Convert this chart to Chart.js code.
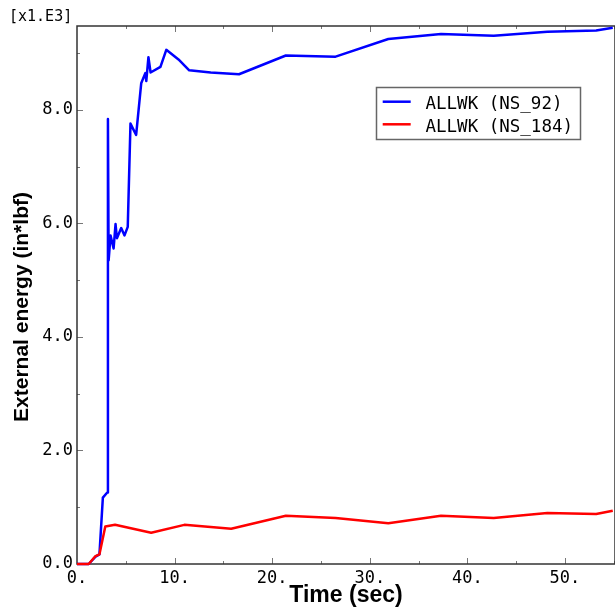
<!DOCTYPE html>
<html>
<head>
<meta charset="utf-8">
<script src="https://cdn.jsdelivr.net/npm/chart.js@4/dist/chart.umd.min.js"></script>
<style>
    html, body { margin: 0; padding: 0; background: #fff; }
    #wrap { width: 615px; height: 609px; }
</style>
</head>
<body>
<div id="wrap"><canvas id="chart" width="615" height="609"></canvas></div>
<script>
// ALLWK (NS_92) - time (sec) / external energy (x1.E3 in*lbf)
const timeNs92 = [0, 1.2, 1.9, 2.3, 2.65, 3.1, 3.17, 3.24, 3.44, 3.75, 3.95, 4.09, 4.53, 4.87, 5.2, 5.48, 6.06, 6.58,
    7.0, 7.1, 7.32, 7.54, 8.55, 9.15, 10.4, 11.5, 13.7, 16.6, 21.4, 26.5, 31.9, 37.3, 42.7, 48.2, 53.2, 54.9];
const energyNs92 = [0, 0, 0.13, 0.17, 1.17, 1.26, 7.84, 5.35, 5.79, 5.56, 5.99, 5.74, 5.92, 5.79, 5.94, 7.76, 7.56, 8.47,
    8.65, 8.51, 8.93, 8.66, 8.76, 9.06, 8.89, 8.70, 8.66, 8.63, 8.96, 8.94, 9.25, 9.34, 9.31, 9.38, 9.40, 9.45];

// ALLWK (NS_184)
const timeNs184 = [0, 1.2, 1.9, 2.3, 2.9, 3.9, 7.6, 11.0, 15.8, 21.4, 26.5, 31.9, 37.3, 42.7, 48.2, 53.2, 54.9];
const energyNs184 = [0, 0, 0.14, 0.17, 0.66, 0.69, 0.55, 0.69, 0.62, 0.85, 0.81, 0.72, 0.85, 0.81, 0.90, 0.88, 0.94];

const xTickValues = [0, 10, 20, 30, 40, 50];
const xTickLabels = ["0.", "10.", "20.", "30.", "40.", "50."];
const yTickValues = [0, 2, 4, 6, 8];
const yTickLabels = ["0.0", "2.0", "4.0", "6.0", "8.0"];

// 右边框落在画布外（原图右侧被裁掉）
const X_MAX = 55.13;
const Y_MAX = 9.48;

function toPoints(xs, ys) {
    return xs.map((x, i) => ({ x: x, y: ys[i] }));
}

// 边框、内向刻度、图例和左上角的倍数标注
const decorations = {
    id: "decorations",
    beforeDatasetsDraw(chart) {
        const ctx = chart.ctx;
        const a = chart.chartArea;
        const xs = chart.scales.x;
        const ys = chart.scales.y;
        ctx.save();
        ctx.strokeStyle = "#777";
        ctx.lineWidth = 1;
        ctx.beginPath();
        for (let v = 5; v < X_MAX; v += 5) {
            const px = Math.round(xs.getPixelForValue(v)) + 0.5;
            const len = v % 10 === 0 ? 6 : 3;
            ctx.moveTo(px, a.bottom); ctx.lineTo(px, a.bottom - len);
            ctx.moveTo(px, a.top); ctx.lineTo(px, a.top + len);
        }
        for (let v = 1; v < Y_MAX; v += 1) {
            const py = Math.round(ys.getPixelForValue(v)) + 0.5;
            const len = v % 2 === 0 ? 6 : 3;
            ctx.moveTo(a.left, py); ctx.lineTo(a.left + len, py);
        }
        ctx.stroke();
        ctx.strokeStyle = "#333";
        ctx.lineWidth = 1.5;
        ctx.strokeRect(a.left, a.top, a.right - a.left, a.bottom - a.top);
        ctx.restore();
    },
    afterDraw(chart) {
        const ctx = chart.ctx;
        ctx.save();

        ctx.fillStyle = "#000";
        ctx.font = '15px "DejaVu Sans Mono"';
        ctx.textAlign = "left";
        ctx.textBaseline = "alphabetic";
        ctx.fillText("[x1.E3]", 9, 21);

        // y 轴标题
        ctx.save();
        ctx.translate(22.5, 307);
        ctx.rotate(-Math.PI / 2);
        ctx.font = 'bold 21px "Liberation Sans"';
        ctx.textAlign = "center";
        ctx.textBaseline = "middle";
        ctx.fillText("External energy (in*lbf)", 0, 0);
        ctx.restore();

        // 图例
        const box = { left: 376.5, top: 87.5, width: 204, height: 52 };
        ctx.fillStyle = "#fff";
        ctx.fillRect(box.left, box.top, box.width, box.height);
        ctx.strokeStyle = "#666";
        ctx.lineWidth = 1.5;
        ctx.strokeRect(box.left, box.top, box.width, box.height);
        ctx.font = '17.5px "DejaVu Sans Mono"';
        chart.data.datasets.forEach((ds, i) => {
            const y = 101.7 + i * 22.6;
            ctx.strokeStyle = ds.borderColor;
            ctx.lineWidth = 2.5;
            ctx.beginPath();
            ctx.moveTo(382.7, y);
            ctx.lineTo(410.7, y);
            ctx.stroke();
            ctx.fillStyle = "#000";
            ctx.fillText(ds.label, 425.5, y + 7.6);
        });
        ctx.restore();
    }
};

new Chart(document.getElementById("chart"), {
    type: "line",
    data: {
        datasets: [
            {
                label: "ALLWK (NS_92)",
                data: toPoints(timeNs92, energyNs92),
                borderColor: "#0000ff",
                borderWidth: 2.5,
                borderJoinStyle: "round",
                pointRadius: 0,
                fill: false,
                order: 1,
                clip: false
            },
            {
                label: "ALLWK (NS_184)",
                data: toPoints(timeNs184, energyNs184),
                borderColor: "#ff0000",
                borderWidth: 2.5,
                borderJoinStyle: "round",
                pointRadius: 0,
                fill: false,
                order: 0,
                clip: false
            }
        ]
    },
    options: {
        responsive: false,
        animation: false,
        devicePixelRatio: 1,
        layout: { padding: { top: 26, left: 0, right: -2, bottom: 0 } },
        plugins: { legend: { display: false }, tooltip: { enabled: false } },
        scales: {
            x: {
                type: "linear",
                min: 0,
                max: X_MAX,
                grid: { display: false, drawTicks: false },
                border: { display: false },
                afterBuildTicks: axis => { axis.ticks = xTickValues.map(v => ({ value: v })); },
                afterFit: axis => { axis.height = 45; },
                ticks: {
                    color: "#000",
                    padding: 4,
                    maxRotation: 0,
                    font: { family: "DejaVu Sans Mono", size: 17 },
                    callback: (v, i) => xTickLabels[i]
                },
                title: {
                    display: true,
                    text: "Time (sec)",
                    color: "#000",
                    padding: { top: 0, bottom: 0 },
                    font: { family: "Liberation Sans", size: 23, weight: "bold" }
                }
            },
            y: {
                type: "linear",
                min: 0,
                max: Y_MAX,
                grid: { display: false, drawTicks: false },
                border: { display: false },
                afterBuildTicks: axis => { axis.ticks = yTickValues.map(v => ({ value: v })); },
                afterFit: axis => { axis.width = 77; },
                ticks: {
                    color: "#000",
                    padding: 4,
                    font: { family: "DejaVu Sans Mono", size: 17 },
                    callback: (v, i) => yTickLabels[i]
                }
            }
        }
    },
    plugins: [decorations]
});
</script>
</body>
</html>
